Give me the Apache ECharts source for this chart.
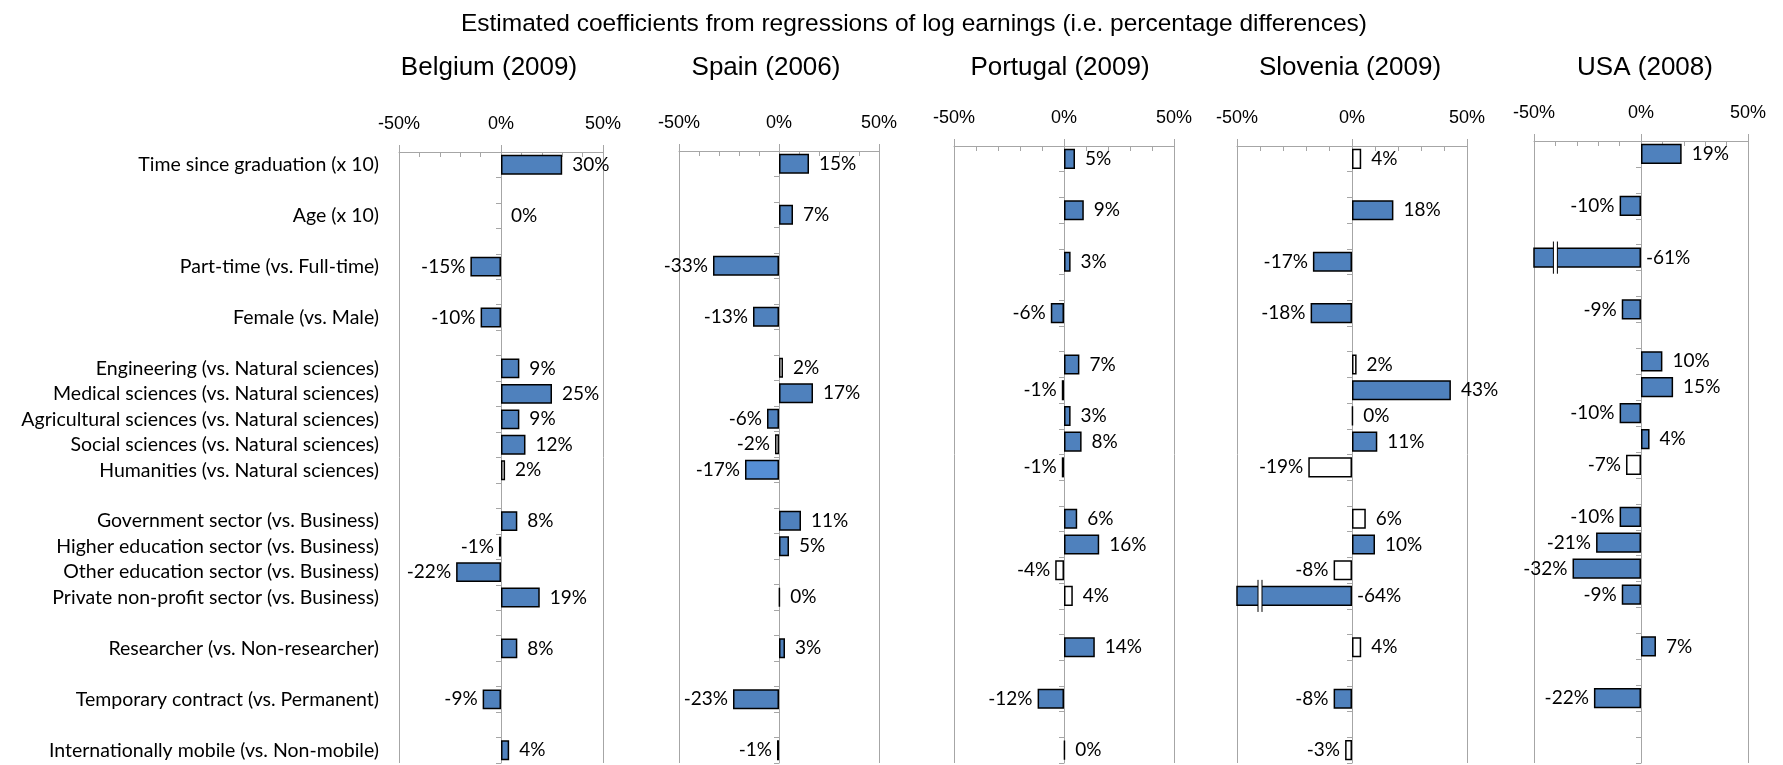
<!DOCTYPE html>
<html>

<head>
    <title>Estimated coefficients from regressions of log earnings</title>
    <meta charset="utf-8">
    <script src="https://cdn.jsdelivr.net/npm/echarts@6/dist/echarts.min.js"></script>
    <style>
        html, body { margin: 0; padding: 0; background: #fff; }
    </style>
</head>

<body>
    <div id="chart" style="width: 1783px;height:765px;"></div>
    <script>
        var countries = ['Belgium (2009)', 'Spain (2006)', 'Portugal (2009)', 'Slovenia (2009)', 'USA (2008)'];
        // variables, grouped as in the chart (a blank row between groups)
        var rowGroups = [
            ['Time since graduation (x 10)'],
            ['Age (x 10)'],
            ['Part-time (vs. Full-time)'],
            ['Female (vs. Male)'],
            ['Engineering (vs. Natural sciences)', 'Medical sciences (vs. Natural sciences)',
                'Agricultural sciences (vs. Natural sciences)', 'Social sciences (vs. Natural sciences)',
                'Humanities (vs. Natural sciences)'],
            ['Government sector (vs. Business)', 'Higher education sector (vs. Business)',
                'Other education sector (vs. Business)', 'Private non-profit sector (vs. Business)'],
            ['Researcher (vs. Non-researcher)'],
            ['Temporary contract (vs. Permanent)'],
            ['Internationally mobile (vs. Non-mobile)']
        ];
        // coefficients in %, one per variable; null = no estimate, 'n.a.' = printed as n.a.
        var belgium = [30, 0, -15, -10, 9, 25, 9, 12, 2, 8, -1, -22, 19, 8, -9, 4];
        var spain = [15, 7, -33, -13, 2, 17, -6, -2, -17, 11, 5, null, 0.4, 3, -23, -1];
        var portugal = [5, 9, 3, -6, 7, -1, 3, 8, -1, 6, 16, -4, 4, 14, -12, 0.4];
        var slovenia = [4, 18, -17, -18, 2, 43, 0.4, 11, -19, 6, 10, -8, -64, 4, -8, -3];
        var usa = [19, -10, -61, -9, 10, 15, -10, 4, -7, -10, -21, -32, -9, 7, -22, 'n.a.'];
        // 1 = significant, 0 = not significant, 2 = marginal
        var belgiumSig = [1, 1, 1, 1, 1, 1, 1, 1, 0, 1, 0, 1, 1, 1, 1, 1];
        var spainSig = [1, 1, 1, 1, 0, 1, 1, 0, 2, 1, 1, 0, 0, 1, 1, 0];
        var portugalSig = [1, 1, 1, 1, 1, 0, 1, 1, 0, 1, 1, 0, 0, 1, 1, 0];
        var sloveniaSig = [0, 1, 1, 1, 0, 1, 0, 1, 0, 0, 1, 0, 1, 0, 1, 0];
        var usaSig = [1, 1, 1, 1, 1, 1, 1, 1, 0, 1, 1, 1, 1, 1, 1, 0];
        var axisMin = -50, axisMax = 50, axisStep = 50;

        var values = [belgium, spain, portugal, slovenia, usa];
        var signif = [belgiumSig, spainSig, portugalSig, sloveniaSig, usaSig];

        // layout of the five panels (px)
        var panels = [
            { left: 399, right: 603, top: 152, titleX: 484 },
            { left: 679, right: 879, top: 151, titleX: 761 },
            { left: 954, right: 1174, top: 146, titleX: 1055 },
            { left: 1237, right: 1467, top: 146, titleX: 1345 },
            { left: 1534, right: 1748, top: 141, titleX: 1640 }
        ];
        var plotBottom = 763;
        var labelRight = 379;
        var breakAt = -40;
        var gray = '#a6a6a6';
        var fills = ['#ffffff', '#4f81bd', '#558ed5'];

        // category slots: rows plus one blank slot between groups
        var slotNames = [];
        var slotRow = [];
        var r = 0;
        rowGroups.forEach(function (g, gi) {
            if (gi > 0) { slotNames.push(''); slotRow.push(null); }
            g.forEach(function (name) { slotNames.push(name); slotRow.push(r++); });
        });

        var titles = [{
            text: 'Estimated coefficients from regressions of log earnings (i.e. percentage differences)',
            left: 909, top: 7, textAlign: 'center',
            textStyle: { fontFamily: 'Liberation Sans', fontSize: 24.5, fontWeight: 'normal', color: '#000' }
        }];
        var grids = [], xAxes = [], yAxes = [], series = [];

        panels.forEach(function (p, i) {
            titles.push({
                text: countries[i], left: p.titleX, top: 50, textAlign: 'center',
                textStyle: { fontFamily: 'Liberation Sans', fontSize: 26, fontWeight: 'normal', color: '#000' }
            });
            grids.push({
                left: p.left, top: p.top, width: p.right - p.left, height: plotBottom - p.top,
                containLabel: false, outerBoundsMode: 'none'
            });
            xAxes.push({
                gridIndex: i, type: 'value', position: 'top',
                min: axisMin, max: axisMax, interval: axisStep,
                axisLine: { show: true, lineStyle: { color: gray, width: 1 } },
                axisTick: { show: true, length: 7, lineStyle: { color: gray } },
                minorTick: { show: true, splitNumber: 5, length: -5, lineStyle: { color: gray } },
                splitLine: { show: true, lineStyle: { color: gray, width: 1 } },
                axisLabel: {
                    margin: 19, fontFamily: 'Liberation Sans', fontSize: 18, color: '#000',
                    formatter: function (v) { return v + '%'; }
                }
            });
            // category labels sit at the left edge of the first panel
            yAxes.push({
                gridIndex: i, type: 'category', inverse: true, data: slotNames,
                axisLine: { show: true, onZero: true, lineStyle: { color: gray, width: 1 } },
                axisTick: { show: true, length: 5, interval: 0, lineStyle: { color: gray } },
                axisLabel: i === 0 ? {
                    show: true, interval: 0, hideOverlap: false,
                    margin: p.left - labelRight, fontFamily: 'Lato', fontSize: 19.5, color: '#000'
                } : { show: false },
                splitLine: { show: false }
            });

            var vals = values[i], sig = signif[i];
            var barData = [], breaks = [];
            slotRow.forEach(function (ri, si) {
                if (ri === null || vals[ri] === null) { barData.push('-'); return; }
                var v = vals[ri];
                if (v === 'n.a.') {
                    barData.push({
                        value: 0, itemStyle: { opacity: 0 },
                        label: { position: 'right', distance: 10, formatter: 'n.a.' }
                    });
                    return;
                }
                var cut = v < axisMin;
                if (cut) breaks.push([breakAt, si]);
                barData.push({
                    value: v,
                    itemStyle: { color: fills[sig[ri]], borderWidth: v === 0 ? 0 : 1.5 },
                    label: {
                        position: (v >= 0 || cut) ? 'right' : 'left',
                        distance: (v >= 0) ? 10 : 5
                    }
                });
            });

            series.push({
                type: 'bar', xAxisIndex: i, yAxisIndex: i, barWidth: '78%',
                data: barData, clip: true,
                itemStyle: { borderColor: '#000', borderWidth: 1.5 },
                label: {
                    show: true, fontFamily: 'Lato', fontSize: 19, color: '#000',
                    formatter: function (prm) { return Math.round(prm.value) + '%'; }
                }
            });
            if (breaks.length) {
                series.push({
                    type: 'custom', xAxisIndex: i, yAxisIndex: i, data: breaks, z: 5,
                    renderItem: function (params, api) {
                        var c = api.coord([api.value(0), api.value(1)]);
                        var h = api.size([0, 1])[1] * 0.78 + 12;
                        var y0 = c[1] - h / 2, y1 = c[1] + h / 2;
                        return {
                            type: 'group', children: [
                                { type: 'rect', shape: { x: c[0] - 2, y: y0, width: 4, height: h }, style: { fill: '#fff' } },
                                { type: 'line', shape: { x1: c[0] - 2, y1: y0, x2: c[0] - 2, y2: y1 }, style: { stroke: '#000', lineWidth: 1 } },
                                { type: 'line', shape: { x1: c[0] + 2, y1: y0, x2: c[0] + 2, y2: y1 }, style: { stroke: '#000', lineWidth: 1 } }
                            ]
                        };
                    }
                });
            }
        });

        var myChart = echarts.init(document.getElementById('chart'));
        myChart.setOption({
            animation: false,
            backgroundColor: '#fff',
            textStyle: { fontFamily: 'Liberation Sans' },
            title: titles,
            grid: grids,
            xAxis: xAxes,
            yAxis: yAxes,
            series: series
        });
    </script>
</body>

</html>
